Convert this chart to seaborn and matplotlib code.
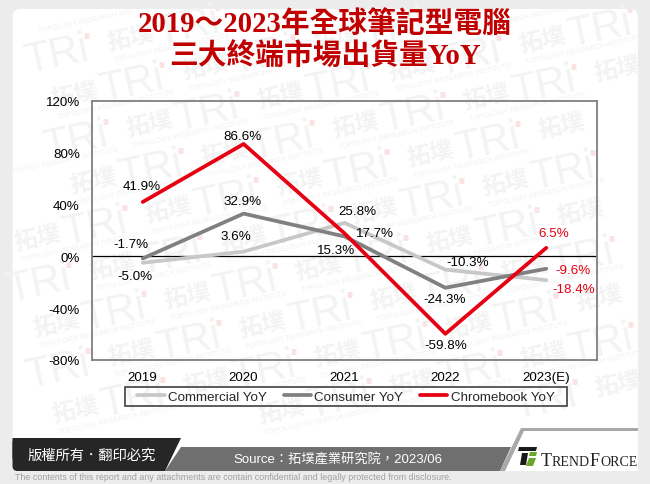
import pandas as pd
import matplotlib
matplotlib.use("Agg")
import matplotlib.pyplot as plt
from matplotlib.patches import FancyBboxPatch, Polygon, Rectangle
import seaborn as sns

# Chart values
years = ["2019", "2020", "2021", "2022", "2023(E)"]
commercial = [-5.0, 3.6, 25.8, -10.3, -18.4]
consumer = [-1.7, 32.9, 15.3, -24.3, -9.6]
chromebook = [41.9, 86.6, 17.7, -59.8, 6.5]
y_ticks = [-80, -40, 0, 40, 80, 120]

title_lines = ["2019～2023年全球筆記型電腦", "三大終端市場出貨量YoY"]
source_text = "Source：拓墣產業研究院，2023/06"
copyright_text = "版權所有．翻印必究"
disclaimer = "The contents of this report and any attachments are contain confidential and legally protected from disclosure."

df = pd.DataFrame({
    "Year": years * 3,
    "Series": ["Commercial YoY"] * 5 + ["Consumer YoY"] * 5 + ["Chromebook YoY"] * 5,
    "YoY": commercial + consumer + chromebook,
})

sns.set_theme(style="white")
plt.rcParams["font.family"] = ["Liberation Sans", "Noto Sans CJK TC", "DejaVu Sans"]

W, H = 650, 485
fig = plt.figure(figsize=(W / 100, H / 100), dpi=100, facecolor="#ececec")

# ----------------------------
# Background card and watermark (pixel coordinates)
# ----------------------------
bg = fig.add_axes([0, 0, 1, 1], zorder=-1)
bg.set_xlim(0, W)
bg.set_ylim(H, 0)
bg.axis("off")

card = FancyBboxPatch((12.5, 10), 625.5, 462, boxstyle="round,pad=0,rounding_size=8",
                      fc="white", ec="none")
bg.add_patch(card)


def free_spot(x, y, dx, dy):
    # whole text inside the picture and not under the footer
    if x - dx < 0 or x + dx > W or y - dy < 0 or y + dy > 470:
        return False
    return y + dy < 436 or (x > 190 and x < 480 and y + dy < 446)


wm = "#f3f3f3"
for i in range(-6, 10):
    for j in range(-6, 8):
        x = 75 + 75 * i + 19 * j
        y = 97 + 29 * i + 86 * j
        if free_spot(x, y, 24, 22):
            t = bg.text(x, y, "拓墣", fontsize=17, fontweight="bold", color=wm, rotation=12,
                        ha="center", va="center", rotation_mode="anchor")
            t.set_clip_path(card)
        if free_spot(x + 56, y - 12, 38, 24):
            t = bg.text(x + 56, y - 12, "TRi", fontsize=30, color=wm, rotation=12,
                        ha="center", va="center", rotation_mode="anchor")
            t.set_clip_path(card)
            bg.plot([x + 86], [y - 32], marker="s", ms=3.6, color="#fae3e3", mec="none", clip_path=card)
        if free_spot(x + 41, y + 8, 58, 14):
            t = bg.text(x + 41, y + 8, "TOPOLOGY RESEARCH INSTITUTE", fontsize=5, color="#f1f1f1",
                        rotation=12, ha="center", va="center", rotation_mode="anchor")
            t.set_clip_path(card)

# ----------------------------
# Footer
# ----------------------------
bg.add_patch(Polygon([(165, 472), (181, 448), (511, 448), (500, 472)], fc="#6f6f6f", ec="none", zorder=5))
bg.add_patch(Polygon([(505, 472), (524, 432), (638, 432), (638, 472)], fc="white", ec="none", zorder=5))
bg.add_patch(FancyBboxPatch((12.5, 439), 60, 33, boxstyle="round,pad=0,rounding_size=5",
                            fc="#262626", ec="none", zorder=5))
bg.add_patch(Polygon([(12.5, 439), (181, 439), (165, 472), (40, 472), (40, 460), (12.5, 460)],
                     fc="#262626", ec="none", zorder=5))
bg.add_patch(Polygon([(500, 472), (521, 429), (638, 429), (638, 432), (524, 432), (505, 472)],
                     fc="#a8a8a8", ec="none", zorder=5))
bg.text(91, 456, copyright_text, color="white", fontsize=10.3, ha="center", va="center", zorder=6)
bg.text(338, 460, source_text, color="white", fontsize=9.5, ha="center", va="center", zorder=6)
bg.text(15, 478, disclaimer, color="#a0a0a0", fontsize=6.4, ha="left", va="center")

# logo
bg.add_patch(Polygon([(519, 448), (537, 448), (536, 452), (518, 452)], fc="#1a1a1a", ec="none", zorder=6))
bg.add_patch(Polygon([(522, 454), (528, 454), (526, 466), (520, 466)], fc="#1a1a1a", ec="none", zorder=6))
bg.add_patch(Polygon([(530, 453), (537, 453), (536, 457), (529, 457)], fc="#6aa52d", ec="none", zorder=6))
bg.add_patch(Polygon([(529, 459), (536, 459), (533, 467), (526, 467)], fc="#6aa52d", ec="none", zorder=6))
for piece, x, size in [("T", 541, 13), ("REND", 552, 10), ("F", 590, 13), ("ORCE", 600, 10)]:
    bg.text(x, 466, piece, family=["Liberation Serif"], color="#222222", fontsize=size,
            ha="left", va="baseline", zorder=6)

for line, y in zip(title_lines, [25, 57]):
    bg.text(325, y, line, family=["Liberation Serif", "Noto Sans CJK TC"], fontweight="bold",
            color="#c00000", fontsize=20.7, ha="center", va="center", zorder=6)

bg.add_patch(Rectangle((125, 388), 442, 19, fc="none", ec="#404040", lw=1.2, zorder=6))

# ----------------------------
# Line chart
# ----------------------------
left, right, top, bottom = 92.3, 596.7, 101.7, 361
ax = fig.add_axes([left / W, 1 - bottom / H, (right - left) / W, (bottom - top) / H])
ax.patch.set_alpha(0)
palette = {"Commercial YoY": "#c8c8c8", "Consumer YoY": "#808080", "Chromebook YoY": "#e60012"}
sns.lineplot(data=df, x="Year", y="YoY", hue="Series", palette=palette, linewidth=2.7,
             sort=False, ax=ax)
ax.set_xlim(-0.5, 4.5)
ax.set_ylim(-80, 120)
ax.set_yticks(y_ticks)
ax.set_yticklabels([f"{v}%" for v in y_ticks])
ax.set_xlabel("")
ax.set_ylabel("")
ax.tick_params(length=0, labelsize=9.6, colors="black")
ax.tick_params(axis="y", pad=9)
ax.tick_params(axis="x", pad=8)
ax.axhline(0, color="black", lw=0.9, zorder=1)
for s in ax.spines.values():
    s.set_color("#7f7f7f")
    s.set_linewidth(1.3)

# ----------------------------
# Data labels (offsets in pixels)
# ----------------------------
offsets = {
    "Commercial YoY": [(-8, -13), (-8, 16), (13, 12), (22, 8), (27, -9)],
    "Consumer YoY": [(-12, 14), (-1, 13), (-8, -14), (-1, -11), (27, -1)],
    "Chromebook YoY": [(-1, 16), (-1, 8), (30, 0), (0, -11), (7, 15)],
}
for name, vals in [("Commercial YoY", commercial), ("Consumer YoY", consumer), ("Chromebook YoY", chromebook)]:
    for i, v in enumerate(vals):
        color = "#e60012" if i == 4 else "black"
        ax.annotate(f"{v}%", (i, v), xytext=offsets[name][i], textcoords="offset pixels",
                    ha="center", va="center", fontsize=9.6, color=color)

ax.legend(loc="center", bbox_to_anchor=(346 / W, 1 - 397.5 / H), bbox_transform=fig.transFigure,
          ncol=3, frameon=False, fontsize=9.6, handlelength=2.05, handletextpad=0.25,
          columnspacing=1.25, borderpad=0, borderaxespad=0)

fig.savefig("out.png", dpi=100, facecolor=fig.get_facecolor())
